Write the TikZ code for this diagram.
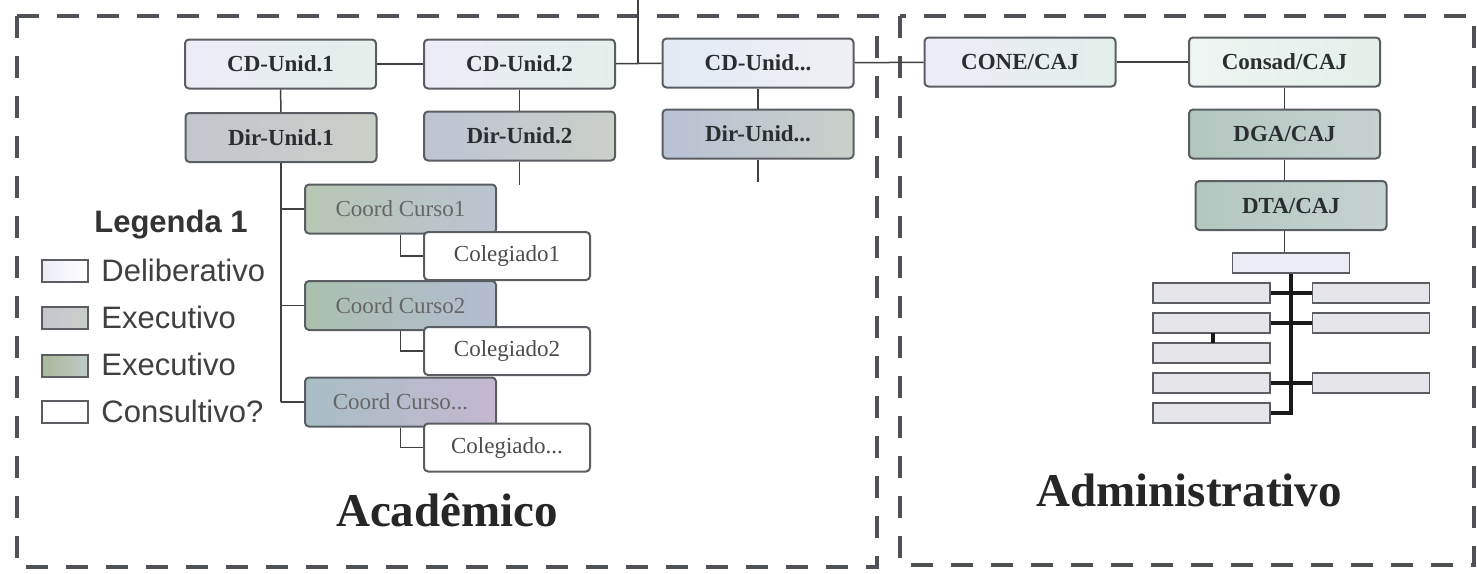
\documentclass[tikz,border=0pt]{standalone}
\usepackage{fontspec}
\setmainfont{Liberation Serif}
\newfontfamily\legfont{Liberation Sans}
\usetikzlibrary{shadings}
\definecolor{frame}{HTML}{4E5256}
\definecolor{bord}{HTML}{5A5E62}
\definecolor{txt}{HTML}{2A2E30}
\definecolor{delA}{HTML}{ECECF7}
\definecolor{delB}{HTML}{E4EFEA}
\definecolor{exA}{HTML}{C4C6CE}
\definecolor{exB}{HTML}{CACFC8}
\definecolor{exC}{HTML}{BEC4D2}
\definecolor{grA}{HTML}{B3C7BF}
\definecolor{grB}{HTML}{C6D2D0}
\definecolor{coA}{HTML}{B8C6B4}
\definecolor{coM}{HTML}{C6BACB}
\definecolor{coB}{HTML}{B9C4D0}
\definecolor{gridf}{HTML}{E6E6EA}
\tikzset{
  box/.style={draw=bord, line width=1pt, rounded corners=2pt, inner sep=0pt,
    text=txt, font=\fontsize{11.5}{12}\selectfont\bfseries},
  delib/.style={box, left color=delA, right color=delB},
  exec/.style={box, left color=exA, right color=exB},
  execg/.style={box, left color=grA, right color=grB},
  coord/.style={box, left color=coA, middle color=coM, right color=coB,
    font=\fontsize{11.5}{12}\selectfont, text=black!60},
  coleg/.style={box, fill=white, font=\fontsize{11.5}{12}\selectfont, text=black!70},
  wide/.style={minimum width=95.5pt, minimum height=24.5pt},
  colw/.style={minimum width=83pt, minimum height=24pt},
  gbox/.style={draw=bord, line width=0.8pt, fill=gridf, inner sep=0pt,
    minimum width=58.5pt, minimum height=10pt},
  conn/.style={draw=black!75, line width=0.75pt},
  thick conn/.style={draw=black!90, line width=2pt},
  dframe/.style={draw=frame, line width=2pt, dash pattern=on 11pt off 9pt},
  legsw/.style={draw=bord, line width=0.8pt, inner sep=0pt, minimum width=23pt, minimum height=11pt},
  legtxt/.style={font=\legfont\fontsize{15.5}{16}\selectfont, text=black!75, anchor=west, inner sep=0pt},
  title/.style={font=\fontsize{23.5}{24}\selectfont\bfseries, text=black!85}
}
\begin{document}
\begin{tikzpicture}[x=0.5pt,y=-0.5pt]
\useasboundingbox (0,0) rectangle (1477,573);
% frames
\draw[dframe] (17,16) rectangle (877,567);
\draw[dframe] (900,16) rectangle (1474,565);

% top row
\node[delib,wide] (cd1) at (280.5,64) {CD-Unid.1};
\node[delib,wide] (cd2) at (519.5,64) {CD-Unid.2};
\node[delib,wide,left color={rgb,255:red,226;green,234;blue,244}, right color={rgb,255:red,240;green,240;blue,244}] (cd3) at (758,63) {CD-Unid...};
\node[exec,wide] (dir1) at (281,137.5) {Dir-Unid.1};
\node[exec,wide,left color=exC] (dir2) at (519.5,136) {Dir-Unid.2};
\node[exec,wide,left color={rgb,255:red,184;green,194;blue,212}, right color=exB] (dir3) at (758,134) {Dir-Unid...};

\node[delib,wide] (cone) at (1020,62) {CONE/CAJ};
\node[delib,wide,left color=delB!60!white, right color=delB] (consad) at (1284.5,62) {Consad/CAJ};
\node[execg,wide] (dga) at (1284.5,134) {DGA/CAJ};
\node[execg,wide] (dta) at (1291,205.5) {DTA/CAJ};

% coordinations
\node[coord,wide] (cc1) at (400.5,209) {Coord Curso1};
\node[coleg,colw] (col1) at (507,256) {Colegiado1};
\node[coord,wide,left color={rgb,255:red,170;green,192;blue,174}, middle color=coM, right color={rgb,255:red,180;green,188;blue,208}] (cc2) at (400.5,305.5) {Coord Curso2};
\node[coleg,colw] (col2) at (507,351) {Colegiado2};
\node[coord,wide,left color={rgb,255:red,168;green,190;blue,196}, middle color={rgb,255:red,192;green,186;blue,190}, right color={rgb,255:red,196;green,184;blue,208}] (cc3) at (400.5,402) {Coord Curso...};
\node[coleg,colw] (col3) at (507,447.5) {Colegiado...};

% administrative grid
\node[gbox,fill=delA] (hb) at (1291,263) {};
\node[gbox] (l1) at (1211.5,293) {};
\node[gbox] (l2) at (1211.5,323) {};
\node[gbox] (l3) at (1211.5,353) {};
\node[gbox] (l4) at (1211.5,383) {};
\node[gbox] (l5) at (1211.5,413) {};
\node[gbox] (r1) at (1371,293) {};
\node[gbox] (r2) at (1371,323) {};
\node[gbox] (r4) at (1371,383) {};

% connectors top
\coordinate (topin) at (638,0);
\draw[conn] (cd1) -- (cd2);
\draw[conn] (cd2) -- (cd3);
\draw[conn] (topin) -- (topin |- cd2.east);
\draw[conn] (cd3) -- (cone);
\draw[conn] (cone) -- (consad);
\draw[conn] (cd1) -- (dir1);
\draw[conn] (cd2) -- (dir2);
\draw[conn] (cd3) -- (dir3);
\coordinate (d2end) at (519.5,185);
\coordinate (d3end) at (758,182);
\draw[conn] (dir2) -- (d2end);
\draw[conn] (dir3) -- (d3end);
\draw[conn] (consad) -- (dga);
\draw[conn] (dga.south) -- (dga.south |- dta.north);
\draw[conn] (dga.south |- dta.south) -- (dga.south |- hb.north);

% academic tree
\coordinate (trunk) at (281,402);
\draw[conn] (dir1.south) -- (trunk);
\draw[conn] (dir1.south |- cc1.west) -- (cc1.west);
\draw[conn] (dir1.south |- cc2.west) -- (cc2.west);
\draw[conn] (trunk) -- (cc3.west);
\draw[conn] (cc1.south) coordinate (c1s) -- (c1s |- col1.west) -- (col1.west);
\draw[conn] (cc2.south) coordinate (c2s) -- (c2s |- col2.west) -- (col2.west);
\draw[conn] (cc3.south) coordinate (c3s) -- (c3s |- col3.west) -- (col3.west);

% grid connectors
\draw[thick conn] (hb.south) |- (l5.east);
\draw[thick conn] (l1.east) -- (r1.west);
\draw[thick conn] (l2.east) -- (r2.west);
\draw[thick conn] (l4.east) -- (r4.west);
\draw[thick conn] (1213,333) -- (1213,343);

% legend
\node[font=\legfont\bfseries\fontsize{15.5}{16}\selectfont, text=black!80, inner sep=0pt] (leg) at (171,225) {Legenda 1};
\node[legsw, left color=delA, right color=white] (s1) at (65,271) {};
\node[legsw, left color=exA, right color=exB] (s2) at (65,318) {};
\node[legsw, left color=grA!80!olive, right color=grB!90!gray] (s3) at (65,366) {};
\node[legsw, fill=white] (s4) at (65,412) {};
\node[legtxt] (t1) at (101,270) {Deliberativo};
\node[legtxt] (t2) at (101,317) {Executivo};
\node[legtxt] (t3) at (101,364) {Executivo};
\node[legtxt] (t4) at (101,411) {Consultivo?};

% titles
\node[title] (acad) at (447,510) {Acadêmico};
\node[title] (adm) at (1189,490) {Administrativo};
\end{tikzpicture}
\end{document}
